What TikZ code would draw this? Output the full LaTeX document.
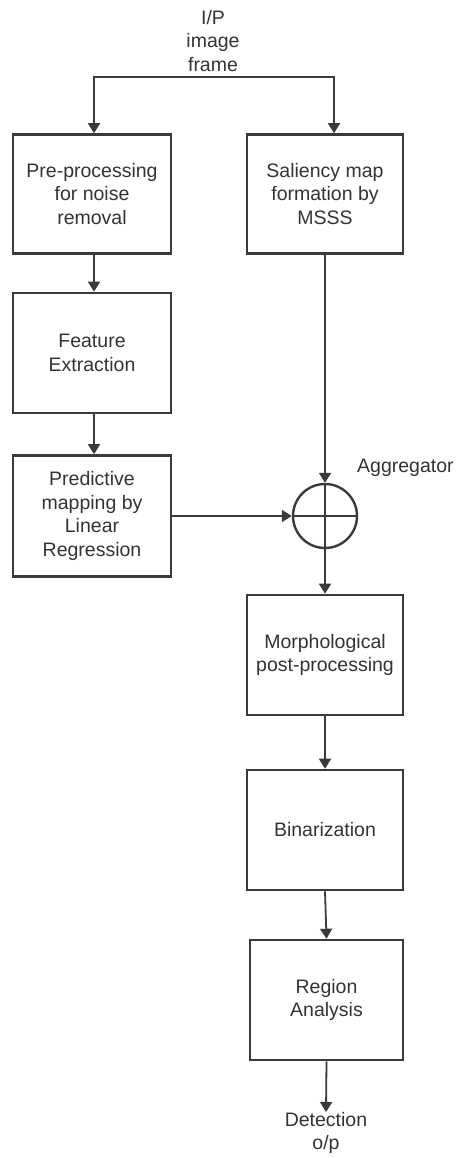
\documentclass[tikz,border=0pt]{standalone}
\usepackage{fontspec}
\setmainfont{Liberation Sans}
\usetikzlibrary{arrows.meta}
\definecolor{ln}{HTML}{3A3A3A}
\definecolor{tx}{HTML}{333333}
\begin{document}
\begin{tikzpicture}[x=1pt,y=1pt,
  every node/.style={font=\fontsize{19.5}{23.5}\selectfont, text=tx},
  blk/.style={draw=ln, line width=2.6pt, rectangle, minimum width=158pt, minimum height=119pt, align=center, inner sep=0pt},
  lbl/.style={align=center, inner sep=0pt},
  arr/.style={draw=ln, line width=1.8pt, -{Triangle[width=12pt,length=10pt]}},
  conn/.style={draw=ln, line width=1.8pt}
]
\useasboundingbox (0,0) rectangle (455,-1158);
\node[lbl] (in) at (213,-41) {I/P\\image\\frame};
\node[blk] (pre) at (92,-194) {Pre-processing\\for noise\\removal};
\node[blk, minimum width=156pt] (sal) at (325,-194) {Saliency map\\formation by\\MSSS};
\node[blk, minimum height=120pt] (feat) at (92,-353) {Feature\\Extraction};
\node[blk, minimum height=121pt] (pred) at (92,-516) {Predictive\\mapping by\\Linear\\Regression};
\node[draw=ln, line width=2.4pt, circle, minimum size=64pt, inner sep=0pt,
      path picture={\draw[ln, line width=2.4pt] (path picture bounding box.north) -- (path picture bounding box.south)
                     (path picture bounding box.west) -- (path picture bounding box.east);}] (agg) at (325,-516) {};
\node[lbl, anchor=west] (agglbl) at (357,-468) {Aggregator};
\node[blk, minimum width=156pt, minimum height=120pt] (morph) at (325,-655) {Morphological\\post-processing};
\node[blk, minimum width=156pt, minimum height=120pt] (bin) at (325,-830) {Binarization};
\node[blk, minimum width=153pt, minimum height=120pt] (reg) at (326.5,-1000) {Region\\Analysis};
\node[lbl, anchor=north] (det) at (326,-1112) {Detection\\o/p};
\coordinate (tl) at (94,-77);
\coordinate (tr) at (334,-77);
\draw[conn, {Triangle[width=12pt,length=10pt]}-{Triangle[width=12pt,length=10pt]}] (tl |- pre.north) -- (tl) -- (tr) -- (tr |- sal.north);
\draw[arr] (pre.south -| tl) -- (feat.north -| tl);
\draw[arr] (feat.south -| tl) -- (pred.north -| tl);
\draw[arr] (sal.south) -- (agg.north);
\draw[arr] (pred.east) -- (agg.west);
\draw[arr] (agg.south) -- (morph.north);
\draw[arr] (morph.south) -- (bin.north);
\draw[arr] (bin.south) -- (reg.north);
\draw[arr] (reg.south) -- (det.north);
\end{tikzpicture}
\end{document}
